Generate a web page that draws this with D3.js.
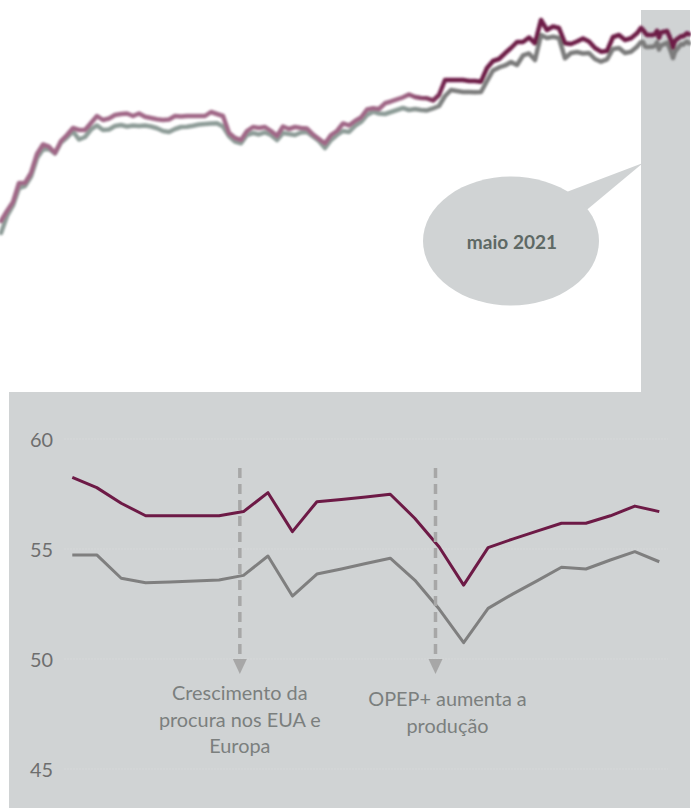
<!DOCTYPE html>
<html>
<head>
<meta charset="utf-8">
<script src="https://cdn.jsdelivr.net/npm/d3@7"></script>
<style>
  html, body { margin: 0; padding: 0; background: #ffffff; }
  svg { display: block; }
</style>
</head>
<body>
<script>
// Long-run series, one reading every 3 trading days (purple and gray benchmarks)
const historyPurple = [
  10.0, 12.5, 14.75, 19.5, 19.5, 22.0, 26.75, 29.13, 28.58, 27.0,
  30.0, 31.5, 33.25, 32.75, 32.75, 34.5, 36.25, 35.25, 35.63, 36.5,
  36.75, 36.88, 36.25, 36.88, 36.08, 35.75, 35.43, 35.25, 35.38, 36.25,
  36.13, 36.25, 36.25, 36.25, 36.25, 37.25, 36.75, 36.25, 32.0, 30.75,
  30.25, 32.5, 33.5, 33.25, 33.5, 32.5, 31.25, 33.63, 33.0, 33.5,
  33.25, 33.13, 31.63, 30.5, 29.38, 31.5, 32.5, 34.38, 33.88, 35.0,
  35.88, 37.88, 38.18, 38.0, 39.43, 39.88, 40.43, 40.93, 41.63, 41.0,
  40.75, 40.68, 40.13, 41.5, 45.25, 45.25, 45.25, 45.25, 45.0, 45.0,
  44.83, 48.25, 50.0, 50.5, 51.93, 53.25, 54.75, 54.75, 55.88, 54.43,
  60.25, 57.75, 58.63, 58.25, 54.43, 54.25, 54.88, 55.63, 54.88, 53.25,
  52.33, 52.5, 56.0, 56.5, 55.25, 55.68, 56.93
];
const historyGray = [
  7.0, 11.25, 13.88, 18.25, 18.75, 21.13, 25.75, 27.88, 28.0, 26.88,
  29.63, 30.88, 32.38, 30.38, 31.0, 32.88, 33.88, 32.75, 32.88, 33.75,
  34.0, 33.63, 33.88, 33.75, 33.88, 33.63, 33.18, 32.5, 32.25, 33.0,
  33.5, 33.58, 33.83, 34.13, 34.25, 34.38, 34.43, 33.63, 31.25, 29.83,
  29.43, 31.5, 32.0, 31.63, 32.13, 31.5, 30.25, 32.0, 31.75, 31.5,
  32.13, 32.25, 31.13, 30.0, 28.25, 30.25, 31.5, 32.5, 32.25, 33.75,
  34.75, 36.5, 37.33, 36.88, 36.75, 37.25, 37.75, 38.25, 37.75, 38.0,
  37.75, 37.63, 38.13, 38.75, 41.25, 42.75, 42.5, 42.25, 42.25, 42.18,
  42.25, 45.0, 47.63, 48.38, 48.88, 49.75, 49.0, 51.38, 51.88, 50.25,
  56.5, 55.75, 56.08, 55.75, 50.68, 52.0, 52.25, 51.88, 52.0, 50.5,
  49.83, 50.38, 53.0, 53.25, 52.0, 52.33, 53.58
];

// May 2021, daily readings
const mayPurple = [
  58.26, 57.79, 57.08, 56.51, 56.51, 56.51, 56.51, 56.70, 57.56, 55.79,
  57.15, 57.25, 57.36, 57.49, 56.40, 55.09, 53.36, 55.06, 55.45, 55.81,
  56.17, 56.17, 56.51, 56.95, 56.70
];
const mayGray = [
  54.73, 54.73, 53.67, 53.47, 53.50, 53.55, 53.59, 53.80, 54.68, 52.86,
  53.86, 54.09, 54.34, 54.58, 53.59, 52.27, 50.74, 52.30, 52.95, 53.55,
  54.17, 54.09, 54.50, 54.88, 54.42
];

const yTicks = [45, 50, 55, 60];
const bubbleLabel = "maio 2021";
const eventAt = [6.85, 14.85];
const eventLines = [
  ["Crescimento da", "procura nos EUA e", "Europa"],
  ["OPEP+ aumenta a", "produção"]
];

// ---- layout ----
const W = 691, H = 808;
const HIST_STEP = 3;      // trading days between history readings
const MAY_START = 320;    // trading-day index of the first May reading
const LAST_DAY = MAY_START + mayPurple.length - 1;

const panelFill = "#d0d3d4";
const purpleDark = "#6d1a46";
const grayDark = "#7f7f7f";
const FONT = "Lato, 'Open Sans', sans-serif";

const svg = d3.select("body").append("svg")
  .attr("width", W).attr("height", H)
  .attr("viewBox", `0 0 ${W} ${H}`);

const defs = svg.append("defs");

// fades the older part of each long-run line
function fadeGradient(id, light, dark) {
  const g = defs.append("linearGradient")
    .attr("id", id)
    .attr("gradientUnits", "userSpaceOnUse")
    .attr("x1", 0).attr("x2", W).attr("y1", 0).attr("y2", 0);
  g.append("stop").attr("offset", 0).attr("stop-color", light);
  g.append("stop").attr("offset", 0.58).attr("stop-color", light);
  g.append("stop").attr("offset", 0.65).attr("stop-color", dark);
  g.append("stop").attr("offset", 1).attr("stop-color", dark);
}
fadeGradient("fadePurple", "#a06887", purpleDark);
fadeGradient("fadeGray", "#8e9c98", "#7c7c7c");

defs.append("filter").attr("id", "soft")
  .attr("x", "-5%").attr("y", "-20%").attr("width", "110%").attr("height", "140%")
  .append("feGaussianBlur").attr("stdDeviation", 0.8);

// ---- top: long-run view ----
const xT = d3.scaleLinear().domain([0, LAST_DAY]).range([1, 689]);
const yT = d3.scaleLinear().domain([0, 60]).range([261, 21]);

const buildSeries = (hist, may) =>
  hist.map((v, i) => ({ d: i * HIST_STEP, v }))
    .concat(may.map((v, j) => ({ d: MAY_START + j, v })));

const topPurple = buildSeries(historyPurple, mayPurple);
const topGray = buildSeries(historyGray, mayGray);

// highlighted month column and the lower panel
const panelTop = 10, panelJoin = 392;
svg.append("rect")
  .attr("x", xT(MAY_START)).attr("y", panelTop)
  .attr("width", W - 1 - xT(MAY_START)).attr("height", panelJoin - panelTop)
  .attr("fill", panelFill);
svg.append("rect")
  .attr("x", 9).attr("y", panelJoin)
  .attr("width", W - 1 - 9).attr("height", H - panelJoin)
  .attr("fill", panelFill);

// speech bubble pointing at the month column
const bubble = svg.append("g");
const bx = 511, by = 241;
bubble.append("path")
  .attr("d", `M${bx + 45},${by - 45} L${xT(MAY_START) + 2},${163} L${bx + 72},${by - 28} Z`)
  .attr("fill", panelFill);
bubble.append("ellipse")
  .attr("cx", bx).attr("cy", by).attr("rx", 88).attr("ry", 64.5)
  .attr("fill", panelFill);
const bubbleText = bubble.append("text")
  .attr("x", bx + 1).attr("y", by + 8)
  .attr("text-anchor", "middle")
  .attr("font-family", FONT).attr("font-weight", 700)
  .attr("fill", "#5e6965")
  .text(bubbleLabel);

const lineT = d3.line().x(d => xT(d.d)).y(d => yT(d.v)).curve(d3.curveLinear);
const topG = svg.append("g").attr("filter", "url(#soft)");
topG.append("path").datum(topGray)
  .attr("d", lineT).attr("fill", "none")
  .attr("stroke", "url(#fadeGray)").attr("stroke-width", 4.5)
  .attr("stroke-linejoin", "round").attr("stroke-linecap", "round");
topG.append("path").datum(topPurple)
  .attr("d", lineT).attr("fill", "none")
  .attr("stroke", "url(#fadePurple)").attr("stroke-width", 4.5)
  .attr("stroke-linejoin", "round").attr("stroke-linecap", "round");

// ---- bottom: May 2021 detail ----
const xB = d3.scaleLinear().domain([0, mayPurple.length - 1]).range([72.3, 659.3]);
const yB = d3.scaleLinear().domain([45, 60]).range([769, 439]);

// barely-there horizontal guides
const grid = svg.append("g");
grid.selectAll("line").data(yTicks).join("line")
  .attr("x1", 64).attr("x2", 668)
  .attr("y1", d => yB(d)).attr("y2", d => yB(d))
  .attr("stroke", "#d6d8d9").attr("stroke-width", 1)
  .attr("stroke-dasharray", "2,1");

// text size fitted so the first annotation line spans ~136px
const probe = svg.append("text").attr("font-family", FONT).attr("font-size", 100)
  .text(eventLines[0][0]);
const probeW = probe.node().getComputedTextLength();
probe.remove();
const fs = Math.max(12, Math.min(22, 100 * 135.6 / probeW));
bubbleText.attr("font-size", fs * 0.96);

const yAxis = d3.axisLeft(yB).tickValues(yTicks).tickSize(0).tickPadding(0)
  .tickFormat(d3.format("d"));
const yAxisG = svg.append("g").attr("transform", "translate(53,0)").call(yAxis);
yAxisG.select(".domain").remove();
yAxisG.selectAll("text")
  .attr("font-family", FONT).attr("font-size", fs)
  .attr("fill", "#6e6e6e").attr("dy", "0.36em");

const lineB = d3.line().x((d, i) => xB(i)).y(d => yB(d));
svg.append("path").datum(mayGray)
  .attr("d", lineB).attr("fill", "none")
  .attr("stroke", grayDark).attr("stroke-width", 3)
  .attr("stroke-linejoin", "round");
svg.append("path").datum(mayPurple)
  .attr("d", lineB).attr("fill", "none")
  .attr("stroke", purpleDark).attr("stroke-width", 3)
  .attr("stroke-linejoin", "round");

// event markers: dashed arrows with captions
const arrowColor = "#a7a7a7";
const arrowTop = 468, headBase = 659, headTip = 674;
const captionDx = [0, 12], captionBase = [700, 706], captionStep = 26.5;
eventAt.forEach((at, k) => {
  const ax = xB(at);
  const g = svg.append("g");
  g.append("line")
    .attr("x1", ax).attr("x2", ax)
    .attr("y1", arrowTop).attr("y2", headBase)
    .attr("stroke", arrowColor).attr("stroke-width", 3.5)
    .attr("stroke-dasharray", "10,6");
  g.append("path")
    .attr("d", `M${ax - 7},${headBase} L${ax + 7},${headBase} L${ax},${headTip} Z`)
    .attr("fill", arrowColor);
  g.selectAll("text").data(eventLines[k]).join("text")
    .attr("x", ax + captionDx[k])
    .attr("y", (d, i) => captionBase[k] + i * captionStep)
    .attr("text-anchor", "middle")
    .attr("font-family", FONT).attr("font-size", fs)
    .attr("fill", "#7b7f7e")
    .text(d => d);
});
</script>
</body>
</html>
